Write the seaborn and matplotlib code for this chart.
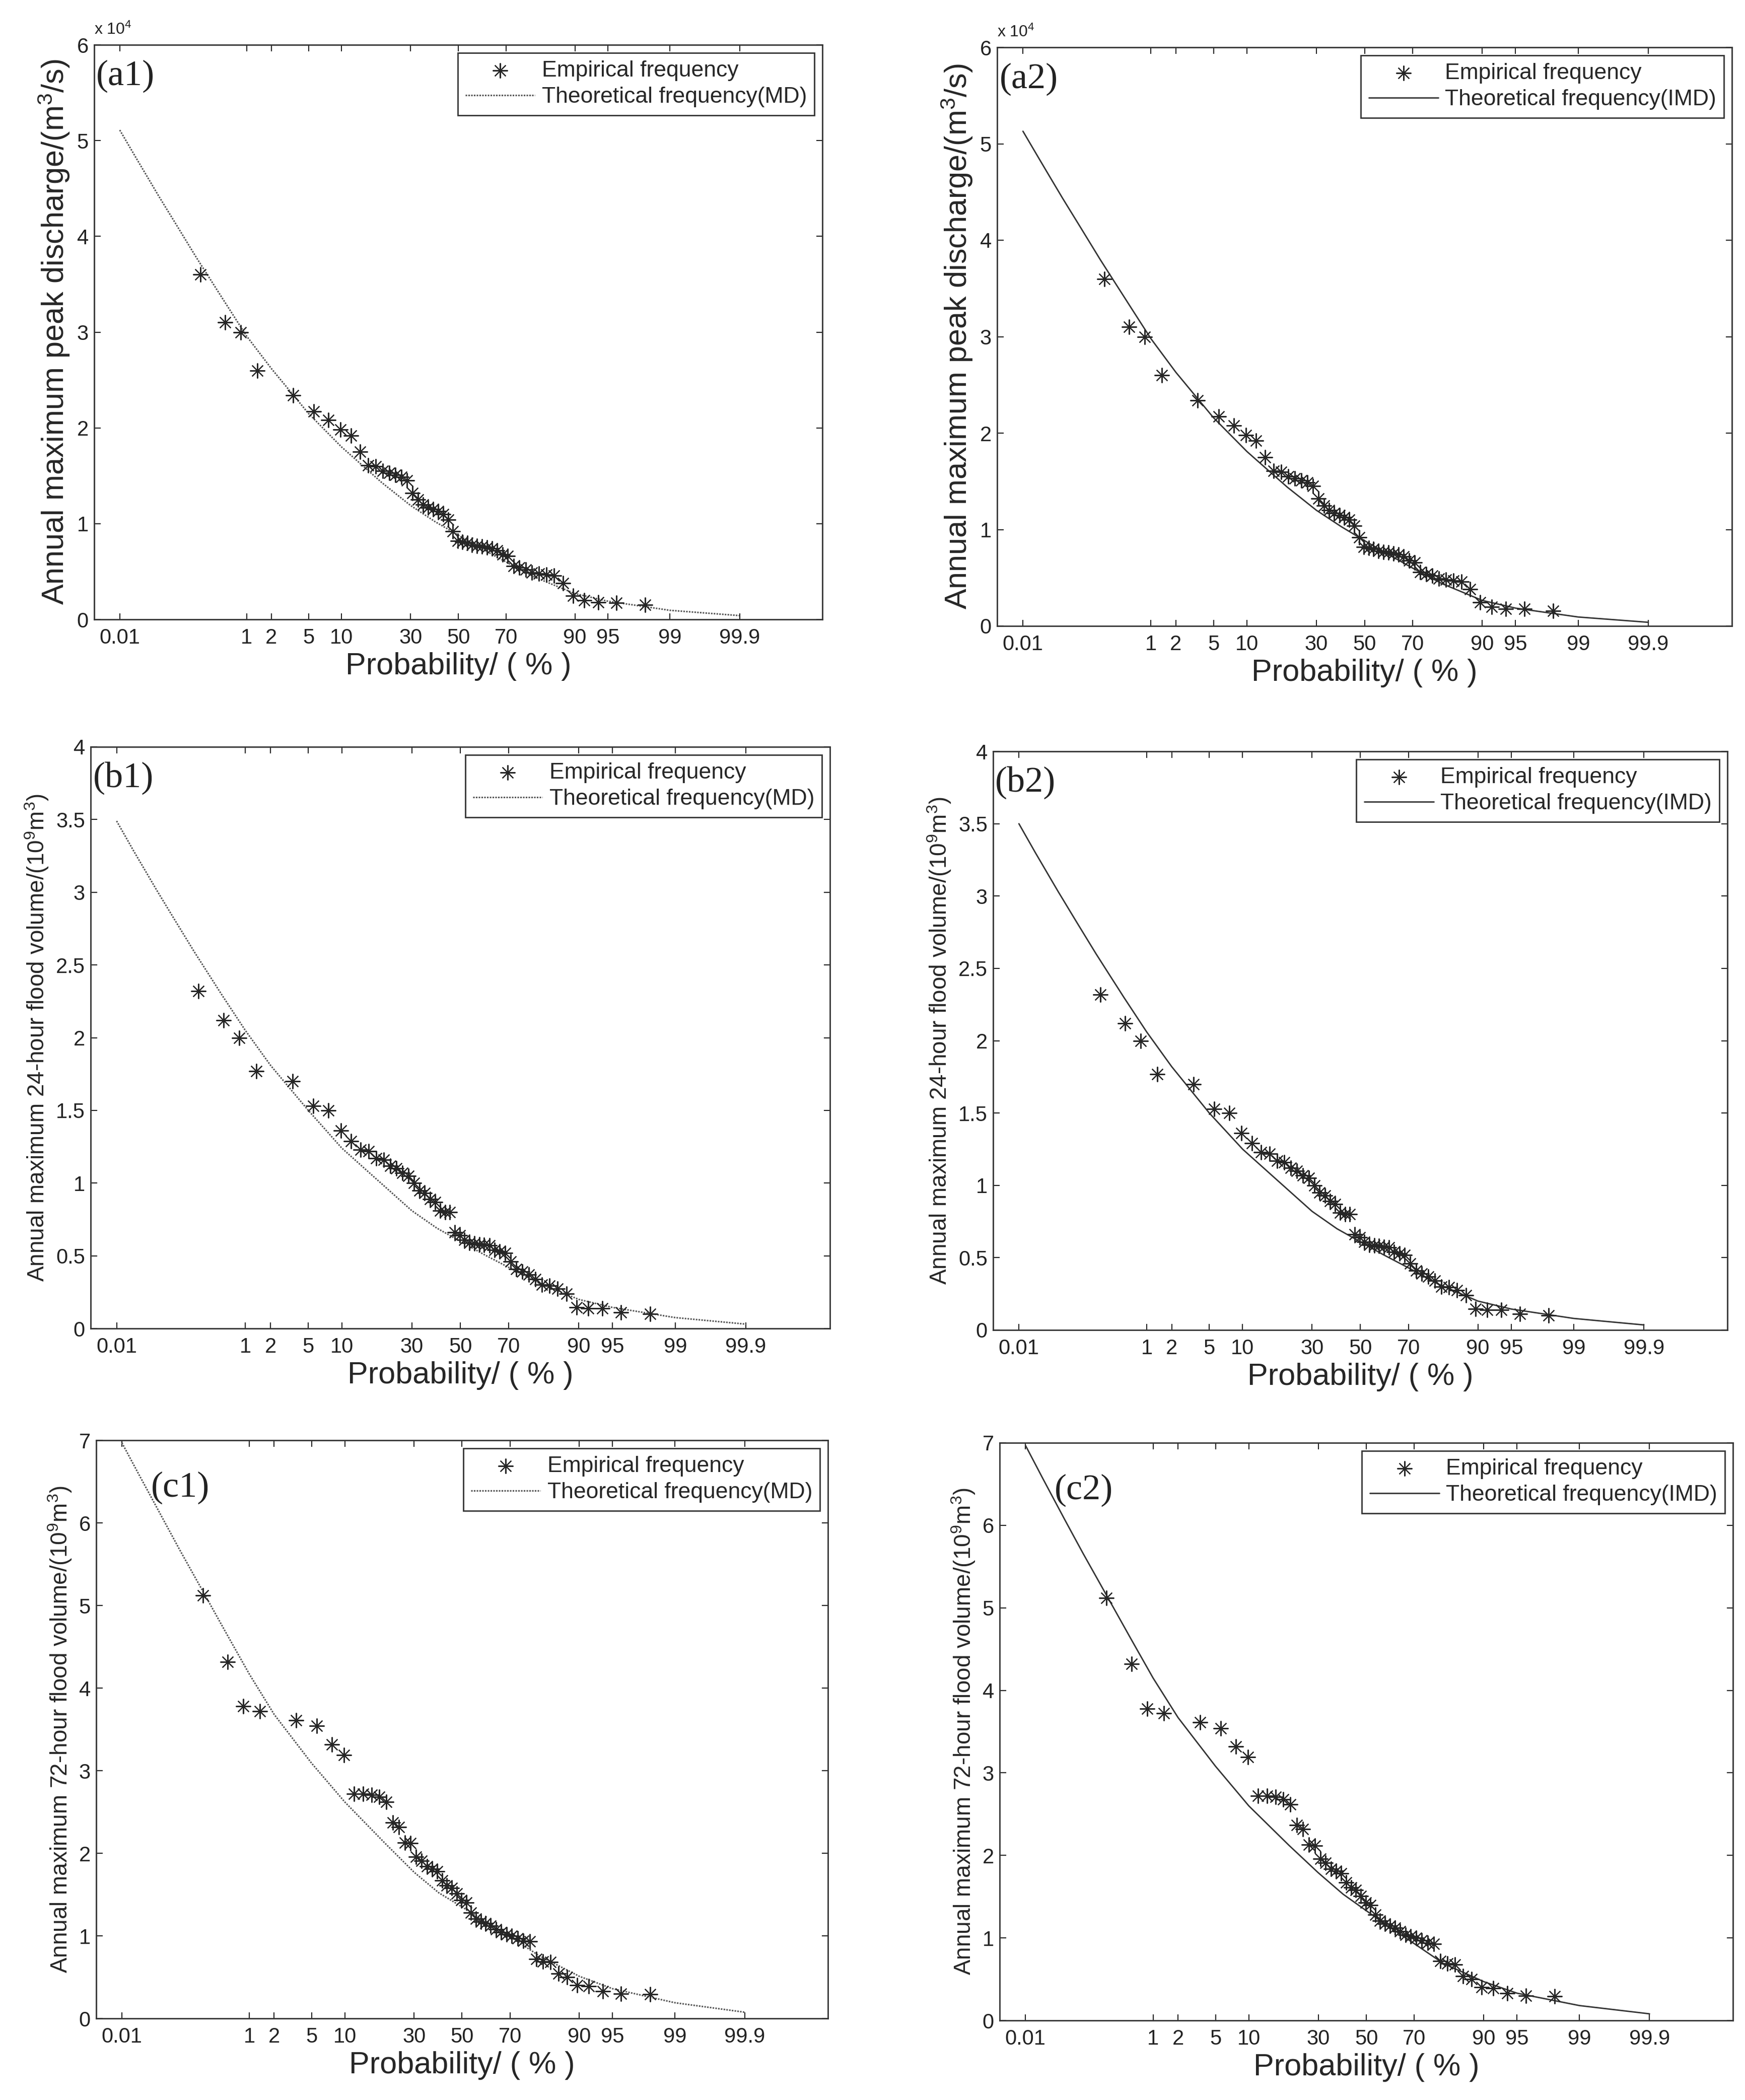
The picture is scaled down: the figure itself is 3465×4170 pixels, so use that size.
import math
import numpy as np
import matplotlib
matplotlib.use("Agg")
import matplotlib.pyplot as plt
import matplotlib.ticker as mticker
import seaborn as sns

# empirical frequency (%) of the ranked floods, same for all panels
emp_prob = [0.23, 0.52, 0.84, 1.36, 3.47, 5.6, 7.7, 9.8, 11.9, 14.0,
            16.1, 18.2, 20.3, 22.4, 24.5, 26.6, 28.7, 30.8, 32.9, 35.0,
            37.1, 39.2, 41.3, 43.4, 45.5, 47.6, 49.7, 51.8, 53.9, 56.0,
            58.1, 60.2, 62.3, 64.4, 66.5, 68.6, 70.7, 72.8, 74.9, 77.0,
            79.1, 81.2, 83.3, 85.4, 87.5, 89.6, 91.7, 93.8, 95.9, 98.0]

# peak discharge (m3/s)
peak_q = [36000, 31000, 30000, 26000, 23400, 21700, 20800, 19800, 19200, 17500,
          16100, 16000, 15500, 15300, 15100, 14900, 14500, 13200, 12500, 12000,
          11700, 11500, 11300, 11000, 10400, 9200, 8200, 8100, 8000, 7800,
          7700, 7600, 7500, 7400, 7200, 6800, 6600, 5600, 5400, 5200,
          4900, 4800, 4700, 4600, 3800, 2450, 2000, 1800, 1750, 1550]

# 24-hour flood volume (10^9 m3)
vol24 = [2.32, 2.12, 2.00, 1.77, 1.70, 1.53, 1.50, 1.36, 1.29, 1.23,
         1.22, 1.17, 1.16, 1.12, 1.10, 1.07, 1.05, 1.00, 0.95, 0.93,
         0.89, 0.87, 0.81, 0.80, 0.80, 0.66, 0.64, 0.61, 0.59, 0.585,
         0.58, 0.575, 0.57, 0.54, 0.53, 0.52, 0.46, 0.41, 0.39, 0.37,
         0.34, 0.30, 0.295, 0.275, 0.24, 0.145, 0.14, 0.14, 0.11, 0.10]

# 72-hour flood volume (10^9 m3)
vol72 = [5.12, 4.32, 3.78, 3.72, 3.61, 3.54, 3.32, 3.19, 2.72, 2.72,
         2.71, 2.68, 2.62, 2.37, 2.32, 2.13, 2.12, 1.96, 1.91, 1.84,
         1.81, 1.78, 1.67, 1.61, 1.58, 1.51, 1.43, 1.40, 1.28, 1.21,
         1.17, 1.15, 1.12, 1.08, 1.04, 1.02, 1.00, 0.97, 0.94, 0.93,
         0.72, 0.69, 0.68, 0.54, 0.50, 0.40, 0.39, 0.33, 0.30, 0.29]

# theoretical frequency curves
curve_prob = [0.01, 0.02, 0.05, 0.1, 0.2, 0.5, 1, 2, 5, 10, 20, 30, 40,
              50, 60, 70, 80, 90, 95, 99, 99.9]
peak_md = [51100, 48200, 44200, 41100, 37800, 33300, 29600, 26200, 21500, 18000,
           14300, 11900, 10200, 8800, 7400, 6000, 4400, 2700, 1900, 950, 400]
peak_imd = [51300, 48400, 44400, 41300, 38000, 33500, 29800, 26300, 21600, 18100,
            14400, 12000, 10300, 8850, 7450, 6000, 4400, 2650, 1850, 930, 380]
vol24_md = [3.49, 3.29, 3.02, 2.81, 2.59, 2.29, 2.05, 1.81, 1.50, 1.24,
            0.99, 0.81, 0.69, 0.60, 0.51, 0.42, 0.315, 0.20, 0.145, 0.075, 0.03]
vol24_imd = [3.50, 3.30, 3.03, 2.82, 2.60, 2.30, 2.06, 1.82, 1.50, 1.25,
             1.00, 0.82, 0.70, 0.61, 0.52, 0.43, 0.32, 0.20, 0.145, 0.08, 0.035]
vol72_md = [6.97, 6.60, 6.09, 5.68, 5.26, 4.66, 4.17, 3.68, 3.09, 2.62,
            2.12, 1.77, 1.52, 1.35, 1.17, 0.99, 0.76, 0.51, 0.36, 0.19, 0.075]
vol72_imd = [6.97, 6.59, 6.07, 5.66, 5.24, 4.64, 4.15, 3.67, 3.08, 2.60,
             2.12, 1.79, 1.53, 1.33, 1.13, 0.93, 0.69, 0.47, 0.33, 0.18, 0.08]

prob_ticks = [0.01, 1, 2, 5, 10, 30, 50, 70, 90, 95, 99, 99.9]
prob_labels = ["0.01", "1", "2", "5", "10", "30", "50", "70", "90", "95", "99", "99.9"]


def _ppf(p):
    a = [-3.969683028665376e+01, 2.209460984245205e+02, -2.759285104469687e+02,
         1.383577518672690e+02, -3.066479806614716e+01, 2.506628277459239e+00]
    b = [-5.447609879822406e+01, 1.615858368580409e+02, -1.556989798598866e+02,
         6.680131188771972e+01, -1.328068155288572e+01]
    c = [-7.784894002430293e-03, -3.223964580411365e-01, -2.400758277161838e+00,
         -2.549671010332679e+00, 4.374664141464968e+00, 2.938163982698783e+00]
    d = [7.784695709041462e-03, 3.224671290700398e-01, 2.445134137142996e+00,
         3.754408661907416e+00]
    lo = 0.02425
    if p < lo:
        q = math.sqrt(-2 * math.log(p))
        return (((((c[0]*q+c[1])*q+c[2])*q+c[3])*q+c[4])*q+c[5]) / \
               ((((d[0]*q+d[1])*q+d[2])*q+d[3])*q+1)
    if p > 1 - lo:
        q = math.sqrt(-2 * math.log(1 - p))
        return -(((((c[0]*q+c[1])*q+c[2])*q+c[3])*q+c[4])*q+c[5]) / \
                ((((d[0]*q+d[1])*q+d[2])*q+d[3])*q+1)
    q = p - 0.5
    r = q * q
    return (((((a[0]*r+a[1])*r+a[2])*r+a[3])*r+a[4])*r+a[5])*q / \
           (((((b[0]*r+b[1])*r+b[2])*r+b[3])*r+b[4])*r+1)


_ppf_v = np.vectorize(_ppf, otypes=[float])
_erf_v = np.vectorize(math.erf, otypes=[float])


def prob_to_z(p):
    p = np.clip(np.asarray(p, dtype=float) / 100.0, 1e-12, 1 - 1e-12)
    return _ppf_v(p)


def z_to_prob(z):
    z = np.asarray(z, dtype=float)
    return 50.0 * (1.0 + _erf_v(z / math.sqrt(2)))


sns.set_style("ticks")
plt.rcParams["font.family"] = ["Liberation Sans", "DejaVu Sans"]
plt.rcParams["mathtext.fontset"] = "custom"
plt.rcParams["mathtext.rm"] = "Liberation Sans"
plt.rcParams["mathtext.it"] = "Liberation Sans:italic"
plt.rcParams["mathtext.bf"] = "Liberation Sans:bold"

W, H = 3466, 4170
fig = plt.figure(figsize=(W / 100, H / 100), dpi=100)
fig.patch.set_facecolor("white")

# left, top, right, bottom in pixels
boxes = {
    "a1": (187, 89, 1633, 1230),
    "a2": (1980, 94, 3439, 1243),
    "b1": (180, 1483, 1648, 2638),
    "b2": (1972, 1492, 3430, 2641),
    "c1": (191, 2860, 1644, 4008),
    "c2": (1985, 2865, 3441, 4012),
}

panels = [
    ("a1", peak_q, peak_md, "MD", 60000, 10000,
     "Annual maximum peak discharge/(m$^3$/s)", 44, (0.003, 0.945)),
    ("a2", peak_q, peak_imd, "IMD", 60000, 10000,
     "Annual maximum peak discharge/(m$^3$/s)", 44, (0.003, 0.945)),
    ("b1", vol24, vol24_md, "MD", 4, 0.5,
     "Annual maximum 24-hour flood volume/(10$^9$m$^3$)", 33, (0.003, 0.946)),
    ("b2", vol24, vol24_imd, "IMD", 4, 0.5,
     "Annual maximum 24-hour flood volume/(10$^9$m$^3$)", 33, (0.003, 0.946)),
    ("c1", vol72, vol72_md, "MD", 7, 1,
     "Annual maximum 72-hour flood volume/(10$^9$m$^3$)", 33, (0.075, 0.918)),
    ("c2", vol72, vol72_imd, "IMD", 7, 1,
     "Annual maximum 72-hour flood volume/(10$^9$m$^3$)", 33, (0.075, 0.918)),
]

for name, emp, curve, method, ymax, ystep, ylab, ylab_fs, lab_pos in panels:
    l, t, r, b = boxes[name]
    ax = fig.add_axes([l / W, (H - b) / H, (r - l) / W, (b - t) / H])
    ax.set_xscale("function", functions=(prob_to_z, z_to_prob))

    if method == "MD":
        sns.lineplot(x=curve_prob, y=curve, ax=ax, color="#555555", lw=2.2,
                     linestyle=(0, (1, 0.8)), estimator=None, sort=False,
                     label="Theoretical frequency(MD)", zorder=2)
    else:
        sns.lineplot(x=curve_prob, y=curve, ax=ax, color="#333333", lw=2.0,
                     estimator=None, sort=False,
                     label="Theoretical frequency(IMD)", zorder=2)
    sns.scatterplot(x=emp_prob, y=emp, ax=ax, marker=(8, 2, 0), s=420,
                    color="#262626", linewidths=1.6, label="Empirical frequency",
                    zorder=3)

    ax.set_xlim(z_to_prob(-4.0), z_to_prob(4.0))
    ax.set_ylim(0, ymax)
    ax.xaxis.set_major_locator(mticker.FixedLocator(prob_ticks))
    ax.xaxis.set_major_formatter(mticker.FixedFormatter(prob_labels))
    ax.xaxis.set_minor_locator(mticker.NullLocator())
    ax.yaxis.set_major_locator(mticker.MultipleLocator(ystep))
    if name.startswith("a"):
        ax.yaxis.set_major_formatter(
            mticker.FuncFormatter(lambda v, _: f"{v / 1e4:g}"))
        ax.text(0.0, 1.012, "x 10$^{4}$", transform=ax.transAxes,
                fontsize=23, ha="left", va="bottom", color="#222222")
    else:
        ax.yaxis.set_major_formatter(
            mticker.FuncFormatter(lambda v, _: f"{v:g}"))

    ax.tick_params(axis="both", direction="in", length=9, width=1.5,
                   top=True, right=True, labelsize=30, colors="#222222")
    ax.tick_params(axis="x", pad=12)
    ax.tick_params(axis="y", pad=8)
    for sp in ax.spines.values():
        sp.set_visible(True)
        sp.set_linewidth(2)
        sp.set_color("#333333")

    ax.set_xlabel("Probability/ ( % )", fontsize=44, labelpad=6)
    ax.set_ylabel(ylab, fontsize=ylab_fs, labelpad=8)

    ax.text(lab_pos[0], lab_pos[1], f"({name})", transform=ax.transAxes,
            fontsize=52, family=["Liberation Serif", "DejaVu Serif"],
            ha="left", va="center", color="#222222")

    handles, labels = ax.get_legend_handles_labels()
    order = [labels.index("Empirical frequency"),
             1 - labels.index("Empirical frequency")]
    leg = ax.legend([handles[i] for i in order], [labels[i] for i in order],
                    loc="upper right", fontsize=32, frameon=True,
                    fancybox=False, edgecolor="#333333", framealpha=1,
                    borderpad=0.35, handlelength=3.1, handletextpad=0.3,
                    borderaxespad=0.35, labelspacing=0.25, scatterpoints=1)
    leg.get_frame().set_linewidth(2)

fig.savefig("out.png", dpi=100, facecolor="white")
